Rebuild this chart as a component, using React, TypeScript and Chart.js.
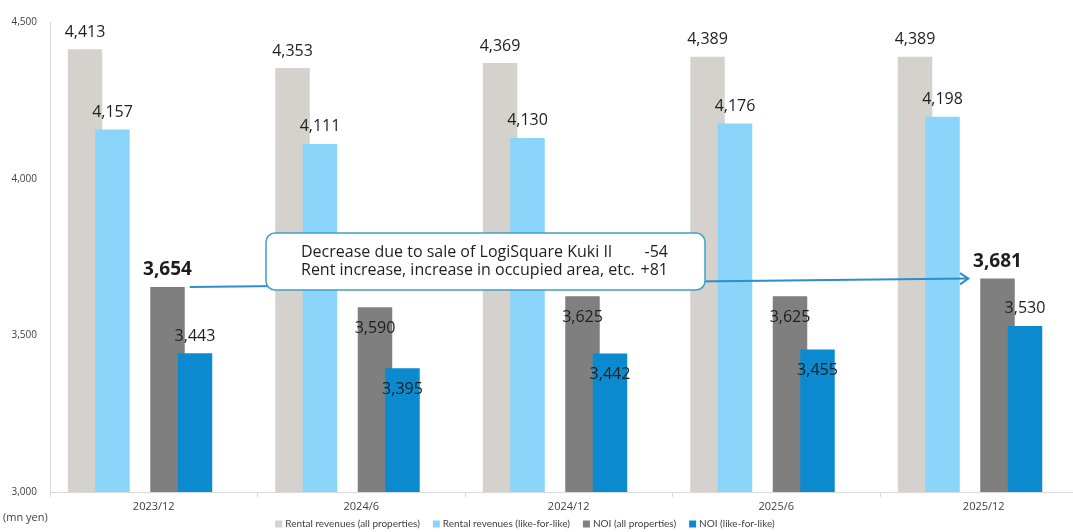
import React, { useEffect, useRef } from "react";
import { Chart, registerables } from "chart.js";

Chart.register(...registerables);

// ---- data ----
const periods = ["2023/12", "2024/6", "2024/12", "2025/6", "2025/12"];
const rentalAll = [4413, 4353, 4369, 4389, 4389];
const rentalLikeForLike = [4157, 4111, 4130, 4176, 4198];
const noiAll = [3654, 3590, 3625, 3625, 3681];
const noiLikeForLike = [3443, 3395, 3442, 3455, 3530];
const yTickValues = [3000, 3500, 4000, 4500];
const seriesNames = [
  "Rental revenues (all properties)",
  "Rental revenues (like-for-like)",
  "NOI (all properties)",
  "NOI (like-for-like)",
];
const noteLines: [string, string][] = [
  ["Decrease due to sale of LogiSquare Kuki II", "-54"],
  ["Rent increase, increase in occupied area, etc.", "+81"],
];
const unitLabel = "(mn yen)";

// ---- style ----
const FONT = "'Open Sans', 'Noto Sans', sans-serif";
const SMALL_FONT = "Lato, 'Open Sans', sans-serif";
const COLORS = ["#d5d2cd", "#8bd4fa", "#7f7f7f", "#0b8ad0"];
const AXIS_COLOR = "#d9d9d9";
const TEXT_COLOR = "#1e1e1e";
const ARROW_COLOR = "#2a8fcb";
const NOTE_BORDER = "#3fa1c8";

// dataset indices (2 and 5 are empty slots that space the two pairs)
const IDX_RENT_ALL = 0;
const IDX_NOI_ALL = 3;
const IDX_NOI_LFL = 4;
// bars that sit underneath their right-hand neighbour
const UNDERLAY = [IDX_RENT_ALL, IDX_NOI_ALL];
// NOI labels that are written inside the bar top
const INSIDE_LABEL_PERIODS = [1, 2, 3];

const spacer = () => ({
  label: "",
  data: periods.map(() => null),
  backgroundColor: "transparent",
});

const underlayPlugin = {
  id: "underlay",
  beforeDatasetsDraw(chart: any) {
    const { ctx, chartArea } = chart;
    ctx.save();
    ctx.beginPath();
    ctx.rect(chartArea.left, chartArea.top, chartArea.right - chartArea.left, chartArea.bottom - chartArea.top);
    ctx.clip();
    for (const i of UNDERLAY) chart.getDatasetMeta(i).controller.draw();
    ctx.restore();
  },
  beforeDatasetDraw(_chart: any, args: any) {
    if (UNDERLAY.includes(args.index)) return false;
  },
};

const notePlugin = {
  id: "note",
  afterDatasetsDraw(chart: any) {
    const { ctx, chartArea } = chart;
    const meta = chart.getDatasetMeta(IDX_NOI_ALL);
    const first = meta.data[0];
    const last = meta.data[meta.data.length - 1];
    const x0 = first.x + first.width / 2 + 5;
    const y0 = first.y;
    const x1 = last.x - last.width / 2 - 12;
    const y1 = last.y;

    ctx.save();
    // arrow
    ctx.strokeStyle = ARROW_COLOR;
    ctx.lineWidth = 2;
    ctx.beginPath();
    ctx.moveTo(x0, y0);
    ctx.lineTo(x1, y1);
    ctx.stroke();
    const ang = Math.atan2(y1 - y0, x1 - x0);
    const hl = 10;
    const hw = 0.6;
    ctx.beginPath();
    ctx.moveTo(x1 - hl * Math.cos(ang - hw), y1 - hl * Math.sin(ang - hw));
    ctx.lineTo(x1, y1);
    ctx.lineTo(x1 - hl * Math.cos(ang + hw), y1 - hl * Math.sin(ang + hw));
    ctx.stroke();

    // note box
    const bx = chartArea.left + 216;
    const by = chartArea.top + 211;
    const bw = 439;
    const bh = 57;
    ctx.beginPath();
    ctx.roundRect(bx, by, bw, bh, 9);
    ctx.fillStyle = "#ffffff";
    ctx.fill();
    ctx.lineWidth = 1.5;
    ctx.strokeStyle = NOTE_BORDER;
    ctx.stroke();

    ctx.fillStyle = TEXT_COLOR;
    ctx.font = `16px ${FONT}`;
    ctx.textBaseline = "middle";
    noteLines.forEach(([text, delta], i) => {
      const ty = by + 19 + i * 18;
      ctx.textAlign = "left";
      ctx.fillText(text, bx + 35, ty);
      ctx.textAlign = "right";
      ctx.fillText(delta, bx + 402, ty);
    });
    ctx.restore();
  },
};

const valueLabelPlugin = {
  id: "valueLabels",
  afterDatasetsDraw(chart: any) {
    const { ctx } = chart;
    ctx.save();
    ctx.fillStyle = TEXT_COLOR;
    ctx.textAlign = "center";
    ctx.textBaseline = "middle";
    chart.data.datasets.forEach((ds: any, i: number) => {
      if (!ds.label) return;
      const meta = chart.getDatasetMeta(i);
      meta.data.forEach((el: any, j: number) => {
        const v = ds.data[j];
        if (v == null) return;
        const bold = i === IDX_NOI_ALL && (j === 0 || j === ds.data.length - 1);
        const inside =
          (i === IDX_NOI_ALL || i === IDX_NOI_LFL) && INSIDE_LABEL_PERIODS.includes(j);
        ctx.font = bold ? `bold 19px ${FONT}` : `16px ${FONT}`;
        const y = inside ? el.y + 21 : el.y - 17;
        ctx.fillText(v.toLocaleString("en-US"), el.x, y);
      });
    });
    ctx.restore();
  },
};

const legendPlugin = {
  id: "bottomLegend",
  afterDraw(chart: any) {
    const { ctx } = chart;
    const items = chart.data.datasets
      .filter((ds: any) => ds.label)
      .map((ds: any) => ({ text: ds.label as string, color: ds.backgroundColor as string }));
    const box = 7;
    const gapBoxText = 3;
    const gapItems = 13;
    ctx.save();
    ctx.font = `10px ${SMALL_FONT}`;
    const widths = items.map((it: any) => box + gapBoxText + ctx.measureText(it.text).width);
    const total = widths.reduce((a: number, b: number) => a + b, 0) + gapItems * (items.length - 1);
    let x = 525 - total / 2;
    const cy = 524;
    ctx.textBaseline = "middle";
    ctx.textAlign = "left";
    items.forEach((it: any, k: number) => {
      ctx.fillStyle = it.color;
      ctx.fillRect(x, cy - box / 2, box, box);
      ctx.fillStyle = "#404040";
      ctx.fillText(it.text, x + box + gapBoxText, cy);
      x += widths[k] + gapItems;
    });
    // unit caption under the value axis
    ctx.font = `11px ${FONT}`;
    ctx.fillStyle = "#404040";
    ctx.fillText(unitLabel, 3, 518);
    ctx.restore();
  },
};

export default function App() {
  const canvasRef = useRef<HTMLCanvasElement>(null);

  useEffect(() => {
    Chart.defaults.font.family = FONT;
    const chart = new Chart(canvasRef.current!, {
      type: "bar",
      data: {
        labels: periods,
        datasets: [
          { label: seriesNames[0], data: rentalAll, backgroundColor: COLORS[0] },
          { label: seriesNames[1], data: rentalLikeForLike, backgroundColor: COLORS[1] },
          spacer(),
          { label: seriesNames[2], data: noiAll, backgroundColor: COLORS[2] },
          { label: seriesNames[3], data: noiLikeForLike, backgroundColor: COLORS[3] },
          spacer(),
        ] as any,
      },
      options: {
        animation: false,
        responsive: false,
        devicePixelRatio: 1,
        datasets: {
          bar: { categoryPercentage: 0.795, barPercentage: 1.2545 },
        },
        layout: { padding: { top: 22, left: 0, right: 12.5, bottom: 0 } },
        plugins: {
          legend: { display: false },
          tooltip: { enabled: false },
        },
        scales: {
          x: {
            type: "category",
            offset: true,
            grid: {
              display: true,
              drawOnChartArea: false,
              drawTicks: true,
              tickLength: 5,
              color: AXIS_COLOR,
              offset: true,
            },
            border: { display: true, color: AXIS_COLOR },
            ticks: {
              color: "#404040",
              font: { size: 11, family: FONT },
              padding: 3,
              maxRotation: 0,
            },
            afterFit: (s: any) => {
              s.height = 40;
            },
          },
          y: {
            min: 3000,
            max: 4500,
            afterBuildTicks: (s: any) => {
              s.ticks = yTickValues.map((v) => ({ value: v }));
            },
            grid: { display: true, drawOnChartArea: false, drawTicks: false },
            border: { display: true, color: AXIS_COLOR },
            ticks: {
              color: "#404040",
              font: { size: 10, family: FONT },
              padding: 13,
              callback: (v: any) => Number(v).toLocaleString("en-US"),
            },
            afterFit: (s: any) => {
              s.width = 50;
            },
          },
        },
      } as any,
      plugins: [underlayPlugin, notePlugin, valueLabelPlugin, legendPlugin],
    });
    return () => chart.destroy();
  }, []);

  return (
    <div
      style={{
        position: "fixed",
        left: 0,
        top: 0,
        width: 1073,
        height: 532,
        overflow: "hidden",
        background: "#ffffff",
      }}
    >
      <canvas ref={canvasRef} width={1100} height={532} style={{ display: "block" }} />
    </div>
  );
}
